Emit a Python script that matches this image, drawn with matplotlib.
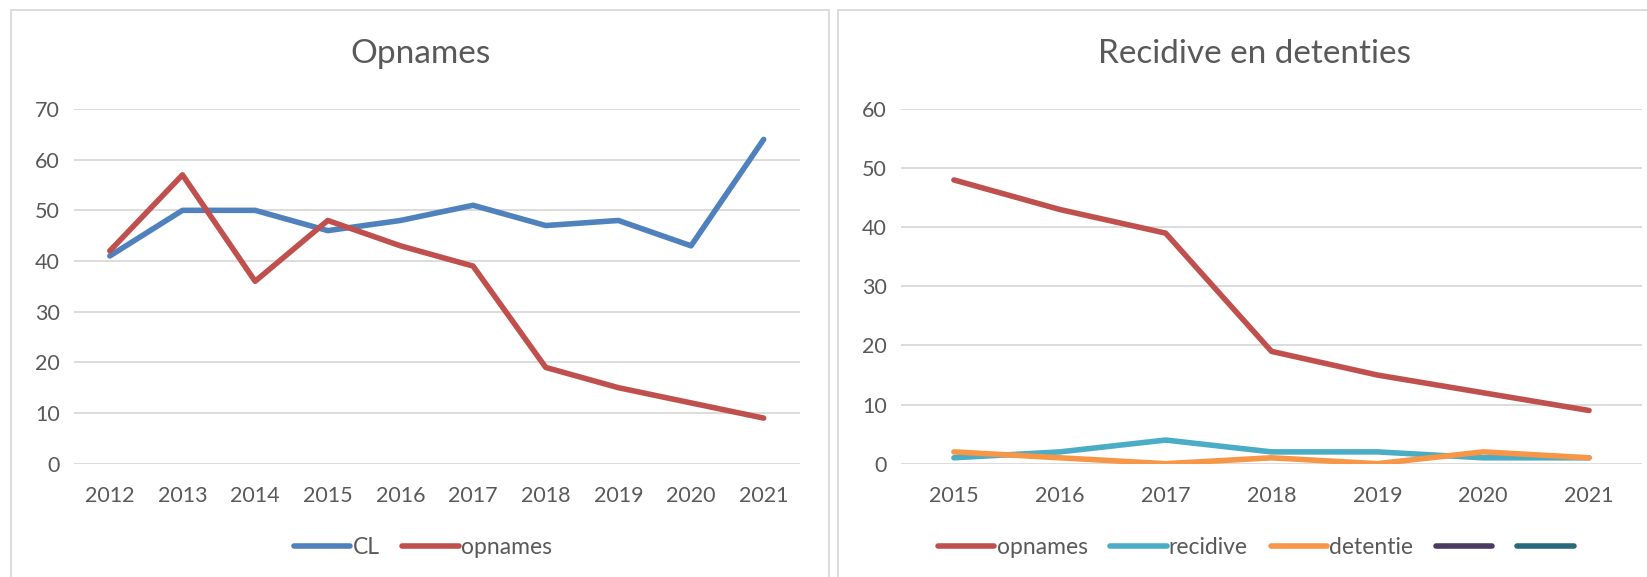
import matplotlib.pyplot as plt
from matplotlib.patches import Rectangle
from matplotlib.lines import Line2D

plt.rcParams['font.family'] = ['Lato', 'DejaVu Sans']

# data
years_left = ['2012', '2013', '2014', '2015', '2016', '2017', '2018', '2019', '2020', '2021']
cl = [41, 50, 50, 46, 48, 51, 47, 48, 43, 64]
opnames_left = [42, 57, 36, 48, 43, 39, 19, 15, 12, 9]

years_right = ['2015', '2016', '2017', '2018', '2019', '2020', '2021']
opnames_right = [48, 43, 39, 19, 15, 12, 9]
recidive = [1, 2, 4, 2, 2, 1, 1]
detentie = [2, 1, 0, 1, 0, 2, 1]

W, H = 1647, 577
TXT = '#595959'
GRID = '#D9D9D9'
LW = 4.0

fig = plt.figure(figsize=(W / 100, H / 100), dpi=100)

# chart borders
for x0, x1 in [(10.5, 829), (838, 1660)]:
    fig.patches.append(Rectangle((x0 / W, -0.1), (x1 - x0) / W, 1.1 - 10 / H,
                                 transform=fig.transFigure, fill=False,
                                 edgecolor=GRID, linewidth=1.3))


def px_axes(x0, x1, ytop, ybot):
    return fig.add_axes([x0 / W, 1 - ybot / H, (x1 - x0) / W, (ybot - ytop) / H])


def style(ax, n, ymax, title, title_x):
    ax.set_xlim(-0.5, n - 0.5)
    ax.set_ylim(0, ymax)
    ax.set_yticks(range(0, ymax + 1, 10))
    ax.grid(axis='y', color=GRID, linewidth=1.3)
    ax.set_axisbelow(True)
    for s in ax.spines.values():
        s.set_visible(False)
    ax.tick_params(length=0, labelsize=15.5, colors=TXT, pad=10)
    ax.tick_params(axis='x', pad=16)
    fig.text(title_x / W, 1 - 54 / H, title, ha='center', va='center',
             fontsize=24, color=TXT)


kw = dict(lw=LW, solid_capstyle='round', solid_joinstyle='round')
leg_kw = dict(loc='center', frameon=False, fontsize=16.5, labelcolor=TXT,
              handlelength=2.45, handletextpad=0.1, columnspacing=1.0)

# left chart
ax1 = px_axes(73.5, 800, 109, 463.7)
x = range(len(years_left))
ax1.plot(x, cl, color='#4F81BD', label='CL', **kw)
ax1.plot(x, opnames_left, color='#C0504D', label='opnames', **kw)
ax1.set_xticks(list(x))
ax1.set_xticklabels(years_left)
style(ax1, len(years_left), 70, 'Opnames', 420)
ax1.legend(bbox_to_anchor=((423 - 73.5) / (800 - 73.5), -(548 - 463.7) / (463.7 - 109)),
           ncol=2, **leg_kw)

# right chart
ax2 = px_axes(901, 1642, 109, 463.7)
x = range(len(years_right))
ax2.plot(x, opnames_right, color='#C0504D', **kw)
ax2.plot(x, recidive, color='#4BACC6', **kw)
ax2.plot(x, detentie, color='#F79646', **kw)
ax2.set_xticks(list(x))
ax2.set_xticklabels(years_right)
style(ax2, len(years_right), 60, 'Recidive en detenties', 1255)
handles = [Line2D([], [], color=c, **kw) for c in ['#C0504D', '#4BACC6', '#F79646', '#4B3A62', '#266A7C']]
labels = ['opnames', 'recidive', 'detentie', '', '']
ax2.legend(handles, labels,
           bbox_to_anchor=((1257 - 901) / (1642 - 901), -(548 - 463.7) / (463.7 - 109)),
           ncol=5, **leg_kw)

fig.savefig('out.png', dpi=100)
